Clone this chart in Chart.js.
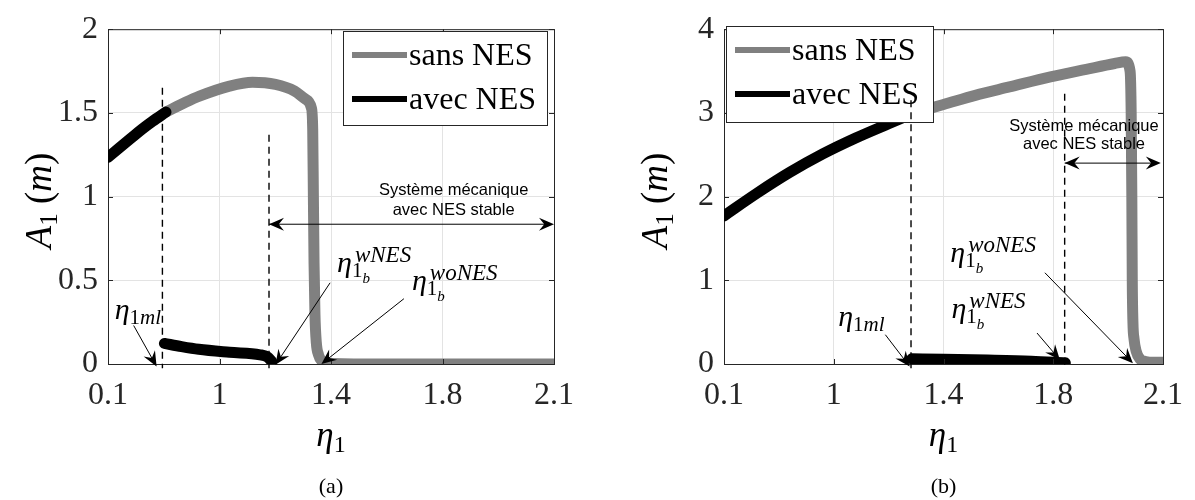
<!DOCTYPE html>
<html>
<head>
<meta charset="utf-8">
<script src="https://cdn.jsdelivr.net/npm/chart.js@4.4.1/dist/chart.umd.min.js"></script>
<style>
  html, body { margin: 0; padding: 0; background: #fff; }
  #wrap { display: flex; width: 1195px; height: 500px; }
</style>
</head>
<body>
<div id="wrap">
  <canvas id="chartA" width="598" height="500"></canvas>
  <canvas id="chartB" width="597" height="500"></canvas>
</div>
<script>
"use strict";
// axes: ticks are evenly spaced, labels as printed in the figure
var xTickPos = [0.1, 0.6, 1.1, 1.6, 2.1];
var xTickLabels = ["0.1", "1", "1.4", "1.8", "2.1"];
var yTicksA = [0, 0.5, 1, 1.5, 2];
var yTicksB = [0, 1, 2, 3, 4];

// (a) sans NES
var sansX_a = [0.36, 0.45, 0.51, 0.645, 0.748, 0.851, 0.937, 0.988, 1.012, 1.018, 1.021, 1.024, 1.028, 1.034, 1.044, 1.058, 1.085, 1.3, 1.6, 1.9, 2.1];
var sansY_a = [1.505, 1.565, 1.6, 1.66, 1.683, 1.67, 1.63, 1.58, 1.53, 1.4, 1.0, 0.6, 0.3, 0.13, 0.055, 0.02, 0.005, 0, 0, 0, 0];
// (a) avec NES, upper and lower branches
var avecHautX_a = [0.1, 0.15, 0.2, 0.25, 0.3, 0.36];
var avecHautY_a = [1.235, 1.29, 1.345, 1.4, 1.45, 1.505];
var avecBasX_a = [0.353, 0.43, 0.507, 0.645, 0.782, 0.816, 0.834];
var avecBasY_a = [0.123, 0.104, 0.088, 0.07, 0.055, 0.041, 0.016];

// (b) sans NES
var sansX_b = [0.96, 1.1, 1.245, 1.4, 1.587, 1.75, 1.88, 1.93, 1.95, 1.955, 1.958, 1.96, 1.963, 1.968, 1.978, 1.995, 2.02, 2.06, 2.1];
var sansY_b = [2.996, 3.1, 3.21, 3.31, 3.43, 3.52, 3.59, 3.61, 3.5, 3.0, 2.0, 1.0, 0.5, 0.3, 0.15, 0.06, 0.03, 0.02, 0.02];
// (b) avec NES
var avecHautX_b = [0.1, 0.25, 0.4, 0.55, 0.7, 0.85, 0.963];
var avecHautY_b = [1.77, 2.04, 2.29, 2.51, 2.7, 2.87, 2.996];
var avecBasX_b = [0.955, 1.1, 1.3, 1.5, 1.655];
var avecBasY_b = [0.062, 0.058, 0.048, 0.034, 0.014];

// vertical dashed markers: x, top, bottom
var dashX_a = [0.344, 0.822];
var dashTop_a = [1.65, 1.37];
var dashX_b = [0.952, 1.652];
var dashTop_b = [3.15, 3.23];
var dashBottom_a = -0.025;
var dashBottom_b = -0.05;

// "stable" zone double arrow: [x1, x2, y], text [x, y line1, y line2]
var stable_a = [0.822, 2.1, 0.835];
var stableText_a = [1.65, 1.01, 0.89];
var stable_b = [1.652, 2.09, 2.40];
var stableText_b = [1.74, 2.78, 2.57];

// eta annotations
var etaLabels_a = [
  { sub: "ml", sup: "", x: 0.13, y: 0.27, from: [0.215, 0.23], to: [0.318, -0.015] },
  { sub: "b", sup: "wNES", x: 1.127, y: 0.55, from: [1.096, 0.485], to: [0.851, -0.005] },
  { sub: "b", sup: "woNES", x: 1.463, y: 0.444, from: [1.427, 0.39], to: [1.057, 0] }
];
var etaLabels_b = [
  { sub: "ml", sup: "", x: 0.62, y: 0.45, from: [0.835, 0.35], to: [0.946, -0.03] },
  { sub: "b", sup: "wNES", x: 1.136, y: 0.55, from: [1.526, 0.37], to: [1.63, 0.05] },
  { sub: "b", sup: "woNES", x: 1.131, y: 1.216, from: [1.562, 1.09], to: [1.963, 0.01] }
];

var SERIF = "'Liberation Serif', 'Times New Roman', serif";
var SANS = "'Liberation Sans', Arial, sans-serif";
var AXIS = "#262626";
var GRID = "#e3e3e3";

function pts(xs, ys) {
  return xs.map(function (x, i) { return { x: x, y: ys[i] }; });
}

function drawRuns(ctx, runs, x, y) {
  var cx = x;
  runs.forEach(function (r) {
    ctx.font = r.f;
    ctx.fillText(r.t, cx, y + (r.dy || 0));
    cx += ctx.measureText(r.t).width;
  });
}
function runsWidth(ctx, runs) {
  var w = 0;
  runs.forEach(function (r) { ctx.font = r.f; w += ctx.measureText(r.t).width; });
  return w;
}

function arrowHead(ctx, tx, ty, ux, uy, len, hw) {
  var nx = -uy, ny = ux;
  ctx.beginPath();
  ctx.moveTo(tx, ty);
  ctx.lineTo(tx - ux * len + nx * hw, ty - uy * len + ny * hw);
  ctx.lineTo(tx - ux * len * 0.65, ty - uy * len * 0.65);
  ctx.lineTo(tx - ux * len - nx * hw, ty - uy * len - ny * hw);
  ctx.closePath();
  ctx.fill();
}
function arrow(ctx, x1, y1, x2, y2, both) {
  var dx = x2 - x1, dy = y2 - y1, d = Math.sqrt(dx * dx + dy * dy);
  var ux = dx / d, uy = dy / d;
  ctx.lineWidth = 1;
  ctx.beginPath();
  ctx.moveTo(x1, y1);
  ctx.lineTo(x2 - ux * 8, y2 - uy * 8);
  ctx.stroke();
  arrowHead(ctx, x2, y2, ux, uy, 15, 6.5);
  if (both) arrowHead(ctx, x1, y1, -ux, -uy, 15, 6.5);
}

function drawEta(ctx, lab, px, py) {
  ctx.font = "italic 30px " + SERIF;
  ctx.fillText("\u03b7", px, py);
  var w = ctx.measureText("\u03b7").width;
  ctx.font = "21px " + SERIF;
  ctx.fillText("1", px + w, py + 5);
  var w1 = ctx.measureText("1").width;
  if (lab.sub === "ml") {
    ctx.font = "italic 21px " + SERIF;
    ctx.fillText("ml", px + w + w1, py + 5);
  } else {
    ctx.font = "italic 15px " + SERIF;
    ctx.fillText("b", px + w + w1, py + 11);
  }
  if (lab.sup) {
    ctx.font = "italic 23px " + SERIF;
    ctx.fillText(lab.sup, px + w + 3, py - 10);
  }
}

function figurePlugin(o) {
  return {
    id: "figure",
    afterDraw: function (chart) {
      var ctx = chart.ctx, a = chart.chartArea;
      var xs = chart.scales.x, ys = chart.scales.y;
      ctx.save();
      // box + inward ticks
      ctx.strokeStyle = AXIS;
      ctx.lineWidth = 1;
      ctx.beginPath();
      ctx.moveTo(a.left, a.top + 0.5); ctx.lineTo(a.right + 0.5, a.top + 0.5);
      ctx.lineTo(a.right + 0.5, a.bottom);
      xs.ticks.forEach(function (t) {
        var p = Math.round(xs.getPixelForValue(t.value)) + 0.5;
        ctx.moveTo(p, a.bottom); ctx.lineTo(p, a.bottom - 5);
        ctx.moveTo(p, a.top); ctx.lineTo(p, a.top + 5);
      });
      ys.ticks.forEach(function (t) {
        var p = Math.round(ys.getPixelForValue(t.value)) + 0.5;
        ctx.moveTo(a.left, p); ctx.lineTo(a.left + 5, p);
        ctx.moveTo(a.right, p); ctx.lineTo(a.right - 5, p);
      });
      ctx.stroke();

      // legend
      var lg = o.legend;
      ctx.fillStyle = "#fff";
      ctx.fillRect(lg.x, lg.y, lg.w, lg.h);
      ctx.strokeStyle = AXIS;
      ctx.strokeRect(lg.x + 0.5, lg.y + 0.5, lg.w, lg.h);
      [["sans NES", "#808080", 24], ["avec NES", "#000", 68]].forEach(function (e) {
        ctx.strokeStyle = e[1];
        ctx.lineWidth = 6;
        ctx.beginPath();
        ctx.moveTo(lg.x + 9, lg.y + e[2]);
        ctx.lineTo(lg.x + 64, lg.y + e[2]);
        ctx.stroke();
        ctx.fillStyle = "#000";
        ctx.font = "32px " + SERIF;
        ctx.textBaseline = "alphabetic";
        ctx.fillText(e[0], lg.x + 66, lg.y + e[2] + 10);
      });

      // dashed markers
      ctx.strokeStyle = "#000";
      ctx.lineWidth = 1.4;
      ctx.setLineDash([7, 5]);
      o.dashX.forEach(function (x, i) {
        var p = xs.getPixelForValue(x);
        ctx.beginPath();
        ctx.moveTo(p, ys.getPixelForValue(o.dashTop[i]));
        ctx.lineTo(p, ys.getPixelForValue(o.dashBottom));
        ctx.stroke();
      });
      ctx.setLineDash([]);

      // stable zone
      ctx.fillStyle = "#000";
      ctx.strokeStyle = "#000";
      var sy = ys.getPixelForValue(o.stable[2]);
      arrow(ctx, xs.getPixelForValue(o.stable[0]), sy, xs.getPixelForValue(o.stable[1]), sy, true);
      ctx.font = "16.5px " + SANS;
      ctx.textAlign = "center";
      ctx.fillText("Syst\u00e8me m\u00e9canique", xs.getPixelForValue(o.stableText[0]), ys.getPixelForValue(o.stableText[1]));
      ctx.fillText("avec NES stable", xs.getPixelForValue(o.stableText[0]), ys.getPixelForValue(o.stableText[2]));
      ctx.textAlign = "left";

      // eta labels + arrows
      o.eta.forEach(function (lab) {
        drawEta(ctx, lab, xs.getPixelForValue(lab.x), ys.getPixelForValue(lab.y));
        arrow(ctx, xs.getPixelForValue(lab.from[0]), ys.getPixelForValue(lab.from[1]),
          xs.getPixelForValue(lab.to[0]), ys.getPixelForValue(lab.to[1]), false);
      });

      // axis titles
      var cxm = (a.left + a.right) / 2;
      var xt = [{ t: "\u03b7", f: "italic 35px " + SERIF }, { t: "1", f: "24px " + SERIF, dy: 6 }];
      drawRuns(ctx, xt, cxm - runsWidth(ctx, xt) / 2, 446);
      var cap = [{ t: o.caption, f: "22px " + SERIF }];
      drawRuns(ctx, cap, cxm - runsWidth(ctx, cap) / 2, 493);

      var yt = [
        { t: "A", f: "italic 37px " + SERIF }, { t: "1", f: "25px " + SERIF, dy: 6 },
        { t: " (", f: "37px " + SERIF }, { t: "m", f: "italic 37px " + SERIF }, { t: ")", f: "37px " + SERIF }
      ];
      ctx.translate(a.left - 70 + 13, (a.top + a.bottom) / 2 + 4);
      ctx.rotate(-Math.PI / 2);
      drawRuns(ctx, yt, -runsWidth(ctx, yt) / 2, 0);
      ctx.restore();
    }
  };
}

function makeChart(id, o) {
  var line = function (label, xs, ys, color) {
    return {
      label: label, data: pts(xs, ys), showLine: true, borderColor: color,
      borderWidth: 11, pointRadius: 0, borderCapStyle: "round", borderJoinStyle: "round",
      cubicInterpolationMode: "monotone"
    };
  };
  return new Chart(document.getElementById(id), {
    type: "scatter",
    data: {
      datasets: [
        line("avec NES", o.hautX, o.hautY, "#000"),
        line("avec NES", o.basX, o.basY, "#000"),
        line("sans NES", o.sansX, o.sansY, "#808080")
      ]
    },
    options: {
      responsive: false,
      animation: false,
      events: [],
      layout: { padding: { top: 22, right: o.padRight, left: 0, bottom: 0 } },
      plugins: { legend: { display: false }, tooltip: { enabled: false } },
      scales: {
        x: {
          type: "linear", min: 0.1, max: 2.1,
          afterBuildTicks: function (s) { s.ticks = xTickPos.map(function (v) { return { value: v }; }); },
          afterFit: function (s) { s.height = 136; },
          ticks: {
            autoSkip: false, maxRotation: 0, padding: 12, color: "#262626",
            font: { family: SERIF, size: 32 },
            callback: function (v, i) { return xTickLabels[i]; }
          },
          grid: { color: GRID, drawTicks: false },
          border: { color: AXIS }
        },
        y: {
          type: "linear", min: o.yTicks[0], max: o.yTicks[o.yTicks.length - 1],
          afterBuildTicks: function (s) { s.ticks = o.yTicks.map(function (v) { return { value: v }; }); },
          afterFit: function (s) { s.width = o.yWidth; },
          ticks: {
            padding: 10, color: "#262626",
            font: { family: SERIF, size: 32 },
            callback: function (v) { return String(v); }
          },
          grid: { color: GRID, drawTicks: false },
          border: { color: AXIS }
        }
      }
    },
    plugins: [figurePlugin(o)]
  });
}

makeChart("chartA", {
  sansX: sansX_a, sansY: sansY_a, hautX: avecHautX_a, hautY: avecHautY_a, basX: avecBasX_a, basY: avecBasY_a,
  yTicks: yTicksA, yWidth: 108, padRight: 44,
  dashX: dashX_a, dashTop: dashTop_a, dashBottom: dashBottom_a,
  stable: stable_a, stableText: stableText_a, eta: etaLabels_a, caption: "(a)",
  legend: { x: 343, y: 31, w: 204, h: 94 }
});
makeChart("chartB", {
  sansX: sansX_b, sansY: sansY_b, hautX: avecHautX_b, hautY: avecHautY_b, basX: avecBasX_b, basY: avecBasY_b,
  yTicks: yTicksB, yWidth: 126, padRight: 25,
  dashX: dashX_b, dashTop: dashTop_b, dashBottom: dashBottom_b,
  stable: stable_b, stableText: stableText_b, eta: etaLabels_b, caption: "(b)",
  legend: { x: 128, y: 26, w: 207, h: 96 }
});
</script>
</body>
</html>
